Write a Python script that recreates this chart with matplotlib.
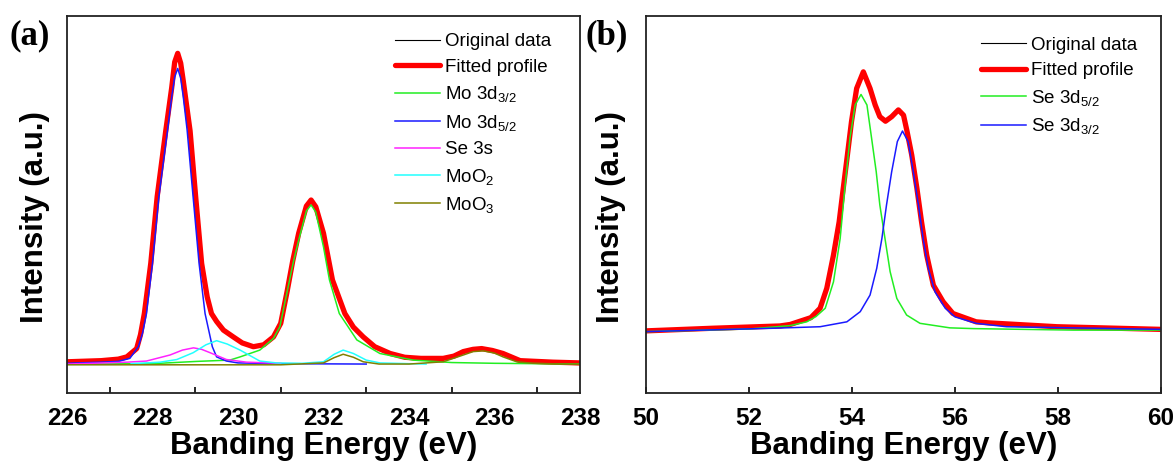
import numpy as np
import matplotlib
matplotlib.use("Agg")
import matplotlib.pyplot as plt

plt.rcParams["font.family"] = ["Liberation Sans", "DejaVu Sans"]
plt.rcParams["mathtext.default"] = "regular"

# ---- panel (a): Mo 3d region (a.u., axis 0-100)
a_fit_x = [226.0, 226.8, 227.2, 227.4, 227.63, 227.72, 227.81, 227.96, 228.11, 228.31,
           228.45, 228.52, 228.59, 228.66, 228.72, 228.88, 229.01, 229.15, 229.28, 229.38,
           229.5, 229.66, 229.89, 230.1, 230.36, 230.6, 230.83, 231.0, 231.15, 231.28,
           231.42, 231.6, 231.71, 231.82, 232.0, 232.21, 232.5, 232.7, 232.93, 233.2,
           233.56, 233.9, 234.28, 234.8, 235.05, 235.27, 235.5, 235.7, 235.95, 236.2,
           236.6, 237.37, 238.0]
a_fit_y = [8.3, 8.6, 9.0, 9.6, 11.8, 15.5, 21.1, 34.4, 52.1, 69.5,
           81.0, 87.8, 90.1, 87.5, 82.8, 69.5, 52.1, 34.4, 25.5, 21.1,
           19.0, 16.7, 14.9, 13.3, 12.3, 12.8, 14.9, 18.5, 27.0, 35.0,
           42.4, 49.6, 51.2, 49.4, 42.4, 30.0, 21.1, 17.5, 14.9, 12.3,
           10.5, 9.5, 9.2, 9.2, 9.8, 11.0, 11.6, 11.8, 11.3, 10.5,
           8.6, 8.2, 8.0]

a_mo52_x = [226.0, 226.8, 227.2, 227.47, 227.67, 227.77, 227.86, 228.0, 228.15, 228.35,
            228.45, 228.52, 228.59, 228.66, 228.72, 228.81, 228.95, 229.09, 229.23, 229.4,
            229.5, 229.73, 230.0, 231.0, 233.0]
a_mo52_y = [7.9, 8.2, 8.4, 9.2, 12.3, 16.0, 21.1, 34.4, 52.1, 69.5,
            78.6, 83.8, 86.1, 83.5, 78.6, 69.8, 52.1, 34.4, 21.1, 12.3,
            9.6, 8.5, 8.0, 7.8, 7.7]

a_mo32_x = [226.0, 228.0, 229.03, 229.81, 230.05, 230.51, 230.83, 230.98, 231.17, 231.3,
            231.43, 231.6, 231.71, 231.82, 232.0, 232.14, 232.37, 232.78, 233.32, 234.1,
            235.0, 236.0, 238.0]
a_mo32_y = [7.7, 7.8, 8.4, 8.75, 9.6, 11.4, 14.5, 17.6, 28.0, 35.0,
            41.0, 48.3, 49.9, 48.0, 38.8, 30.0, 21.1, 14.1, 10.5, 8.75,
            8.1, 7.9, 7.7]

a_se3s_x = [226.0, 227.4, 227.86, 228.41, 228.7, 228.96, 229.15, 229.35, 229.73, 230.2, 231.0]
a_se3s_y = [7.7, 8.2, 8.5, 10.1, 11.4, 12.0, 11.6, 10.7, 8.9, 8.2, 7.9]

a_moo2_x = [227.5, 228.18, 228.57, 228.95, 229.25, 229.5, 229.75, 230.05, 230.51, 230.9,
            231.5, 232.0, 232.25, 232.46, 232.7, 233.0, 233.32, 234.0, 234.4]
a_moo2_y = [7.8, 8.2, 8.9, 10.7, 12.8, 13.9, 13.0, 11.4, 8.5, 8.0,
            7.9, 8.3, 10.3, 11.4, 10.5, 8.75, 8.0, 7.8, 7.7]

a_moo3_x = [226.0, 231.0, 232.0, 232.25, 232.46, 232.7, 232.93, 233.3, 234.0, 234.8,
            235.27, 235.5, 235.74, 236.0, 236.2, 236.52, 236.9, 238.0]
a_moo3_y = [7.5, 7.5, 8.0, 9.4, 10.3, 9.5, 8.3, 7.7, 7.7, 8.3,
            10.1, 11.0, 11.2, 10.6, 9.6, 8.3, 7.9, 7.6]

# ---- panel (b): Se 3d region
b_fit_x = [50.0, 51.3, 52.6, 52.8, 53.2, 53.38, 53.51, 53.64, 53.75, 53.83,
           53.91, 53.99, 54.09, 54.22, 54.35, 54.45, 54.54, 54.65, 54.77, 54.9,
           55.0, 55.07, 55.16, 55.26, 55.35, 55.45, 55.58, 55.77, 55.96, 56.41,
           56.68, 57.98, 60.0]
b_fit_y = [16.5, 17.2, 17.8, 18.2, 20.0, 22.5, 27.8, 36.6, 45.4, 54.3,
           63.1, 72.0, 80.8, 85.2, 80.8, 76.4, 73.3, 72.1, 73.3, 75.1,
           73.7, 69.3, 63.1, 54.3, 45.4, 36.6, 28.6, 24.2, 21.1, 18.9,
           18.6, 17.6, 16.9]

b_se52_x = [50.0, 52.0, 52.8, 53.12, 53.3, 53.48, 53.64, 53.77, 53.86, 53.96,
            54.06, 54.175, 54.29, 54.38, 54.47, 54.54, 54.64, 54.74, 54.87, 55.06,
            55.32, 55.9, 56.36, 58.3, 60.0]
b_se52_y = [16.3, 17.0, 17.9, 18.9, 20.3, 22.5, 29.5, 41.0, 54.3, 67.6,
            76.4, 79.2, 76.4, 67.6, 58.7, 49.9, 41.0, 32.2, 25.1, 20.7,
            18.5, 17.3, 17.1, 16.7, 16.7]

b_se32_x = [50.0, 52.47, 53.38, 53.9, 54.16, 54.35, 54.48, 54.58, 54.67, 54.77,
            54.88, 54.98, 55.09, 55.19, 55.29, 55.38, 55.48, 55.61, 55.81, 56.0,
            56.41, 57.0, 60.0]
b_se32_y = [16.3, 17.2, 17.6, 18.9, 21.6, 26.0, 33.1, 41.0, 49.9, 58.7,
            66.7, 69.5, 66.7, 58.7, 49.9, 41.0, 33.1, 26.9, 22.5, 20.2,
            18.5, 17.6, 16.9]

a_xticks = [226, 228, 230, 232, 234, 236, 238]
b_xticks = [50, 52, 54, 56, 58, 60]

fig = plt.figure(figsize=(11.75, 4.63), dpi=100)
ax1 = fig.add_axes([0.057, 0.151, 0.4366, 0.8144])
ax2 = fig.add_axes([0.5498, 0.151, 0.4383, 0.8144])

comp_lw = 1.1
red_kw = dict(color="#ff0000", lw=3.8, solid_joinstyle="round", solid_capstyle="round")

# panel a
ax1.plot(a_fit_x, a_fit_y, color="black", lw=0.8, label="Original data")
ax1.plot(a_fit_x, a_fit_y, label="Fitted profile", **red_kw)
ax1.plot(a_mo32_x, a_mo32_y, color="#22ee22", lw=comp_lw, label=r"Mo 3d$_{3/2}$")
ax1.plot(a_mo52_x, a_mo52_y, color="#1a1aff", lw=comp_lw, label=r"Mo 3d$_{5/2}$")
ax1.plot(a_se3s_x, a_se3s_y, color="#ff22ff", lw=comp_lw, label="Se 3s")
ax1.plot(a_moo2_x, a_moo2_y, color="#22ffff", lw=comp_lw, label=r"MoO$_2$")
ax1.plot(a_moo3_x, a_moo3_y, color="#808000", lw=comp_lw, label=r"MoO$_3$")
ax1.set_xlim(226, 238)
ax1.set_ylim(0, 100)
ax1.set_xticks(a_xticks)
ax1.set_xticks(np.arange(227, 238, 2), minor=True)
ax1.tick_params(axis="x", which="major", length=0, pad=10)
ax1.tick_params(axis="x", which="minor", direction="in", length=4, width=1.2)

# panel b
ax2.plot(b_fit_x, b_fit_y, color="black", lw=0.8, label="Original data")
ax2.plot(b_fit_x, b_fit_y, label="Fitted profile", **red_kw)
ax2.plot(b_se52_x, b_se52_y, color="#22ee22", lw=comp_lw, label=r"Se 3d$_{5/2}$")
ax2.plot(b_se32_x, b_se32_y, color="#1a1aff", lw=comp_lw, label=r"Se 3d$_{3/2}$")
ax2.set_xlim(50, 60)
ax2.set_ylim(0, 100)
ax2.set_xticks(b_xticks)
ax2.tick_params(axis="x", which="major", direction="in", length=4, width=1.2, pad=10)

for ax, ylx in ((ax1, -0.034), (ax2, -0.039)):
    ax.set_yticks([])
    for sp in ax.spines.values():
        sp.set_linewidth(1.3)
        sp.set_color("#222222")
    for lab in ax.get_xticklabels():
        lab.set_fontweight("bold")
        lab.set_fontsize(17.5)
    ax.set_xlabel("Banding Energy (eV)", fontsize=22.5, fontweight="bold", labelpad=0.5)
    ax.set_ylabel("Intensity (a.u.)", fontsize=22.5, fontweight="bold")
    ax.yaxis.set_label_coords(ylx, 0.468)

leg_kw = dict(loc="upper left", frameon=False, fontsize=13.5, handlelength=2.4,
              handletextpad=0.3, labelspacing=0.45, borderpad=0, borderaxespad=0)
ax1.legend(bbox_to_anchor=(0.639, 0.955), **leg_kw)
ax2.legend(bbox_to_anchor=(0.650, 0.945), **leg_kw)

fig.text(0.0085, 0.922, "(a)", family="Liberation Serif", fontweight="bold",
         fontsize=25, va="center")
fig.text(0.4987, 0.922, "(b)", family="Liberation Serif", fontweight="bold",
         fontsize=25, va="center")

fig.savefig("out.png", dpi=100)
